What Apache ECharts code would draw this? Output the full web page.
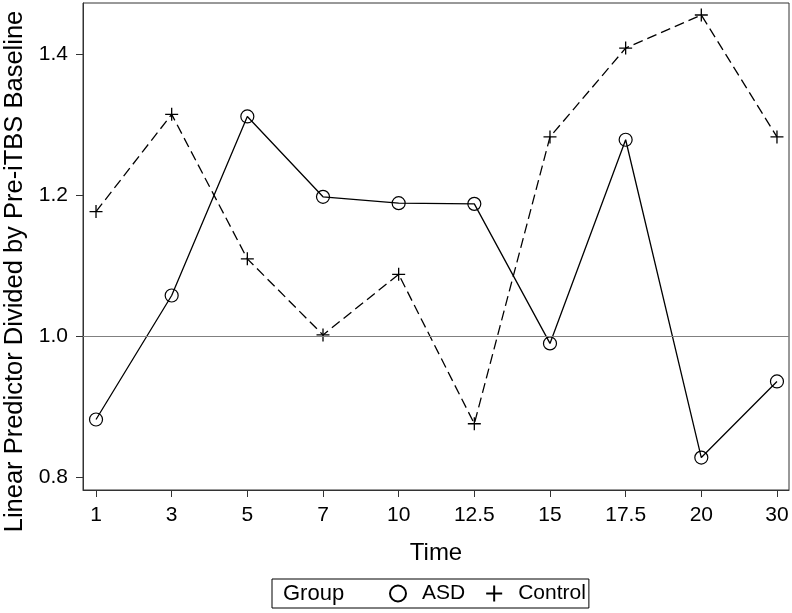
<!DOCTYPE html>
<html>
<head>
<meta charset="utf-8">
<script src="https://cdn.jsdelivr.net/npm/echarts@6/dist/echarts.min.js"></script>
<style>html,body{margin:0;padding:0;background:#fff;}#c{width:792px;height:613px;}</style>
</head>
<body>
<div id="c"></div>
<script>
const categories = ['1','3','5','7','10','12.5','15','17.5','20','30'];
const asdValues = [0.882,1.058,1.312,1.198,1.189,1.188,0.990,1.279,0.828,0.936];
const controlValues = [1.177,1.315,1.110,1.002,1.088,0.876,1.283,1.409,1.456,1.283];
const yTicks = [0.8,1.0,1.2,1.4];
const refValue = 1.0;

const FONT = '"Liberation Sans", Arial, sans-serif';
const plusPath = 'path://M0,6L12,6M6,0L6,12';
const xIdx = categories.map((c,i)=>i);
const toPairs = arr => arr.map((v,i)=>[i,v]);

const chart = echarts.init(document.getElementById('c'), null, {renderer:'canvas'});
chart.setOption({
  animation:false,
  backgroundColor:'#fff',
  textStyle:{fontFamily:FONT,color:'#000'},
  grid:{left:83,top:3,right:3,bottom:123,show:true,borderColor:'#333',borderWidth:1,
        backgroundColor:'transparent',containLabel:false,outerBoundsMode:'none'},
  xAxis:{
    type:'value', min:-0.172, max:9.159,
    name:'Time', nameLocation:'middle', nameGap:51,
    nameTextStyle:{fontSize:24,color:'#000',fontFamily:FONT},
    axisLine:{show:true,onZero:false,lineStyle:{color:'#333',width:1}},
    axisTick:{show:true,length:7,inside:false,customValues:xIdx,lineStyle:{color:'#333'}},
    axisLabel:{customValues:xIdx,fontSize:21,color:'#000',margin:15,fontFamily:FONT,
      formatter:v=>categories[Math.round(v)]},
    splitLine:{show:false}
  },
  yAxis:{
    type:'value', min:0.782, max:1.473,
    name:'Linear Predictor Divided by Pre-iTBS Baseline', nameLocation:'middle', nameGap:50, nameRotate:90,
    nameTextStyle:{fontSize:25.5,color:'#000',fontFamily:FONT,padding:[0,50,0,0]},
    axisLine:{show:true,onZero:false,lineStyle:{color:'#333',width:1}},
    axisTick:{show:true,length:7,customValues:yTicks,lineStyle:{color:'#333'}},
    axisLabel:{customValues:yTicks,fontSize:21,color:'#000',margin:15,fontFamily:FONT,
      formatter:v=>v.toFixed(1)},
    splitLine:{show:false}
  },
  legend:{
    left:272, top:579,
    orient:'horizontal',
    borderColor:'#000', borderWidth:1,
    padding:[4,3,4,117],
    itemWidth:16, itemHeight:16, itemGap:20,
    textStyle:{fontSize:21,color:'#000',fontFamily:FONT,padding:[0,0,0,11]},
    data:[{name:'ASD',icon:'circle'},{name:'Control',icon:plusPath}]
  },
  graphic:[{
    type:'text', left:283, top:583,
    style:{text:'Group',fontSize:22,fill:'#000',fontFamily:FONT}
  }],
  series:[
    {
      name:'ASD', type:'line', data:toPairs(asdValues),
      symbol:'circle', symbolSize:13,
      itemStyle:{color:'transparent',borderColor:'#000',borderWidth:1.2},
      lineStyle:{color:'#000',width:1.3,type:'solid'},
      markLine:{
        silent:true, symbol:['none','none'],
        label:{show:false},
        lineStyle:{color:'#808080',type:'solid',width:1},
        data:[{yAxis:refValue}]
      },
      z:3
    },
    {
      name:'Control', type:'line', data:toPairs(controlValues),
      symbol:plusPath, symbolSize:13,
      itemStyle:{color:'#000',borderColor:'#000',borderWidth:1.3},
      lineStyle:{color:'#000',width:1.3,type:[10,5]},
      z:3
    }
  ]
});
</script>
</body>
</html>
